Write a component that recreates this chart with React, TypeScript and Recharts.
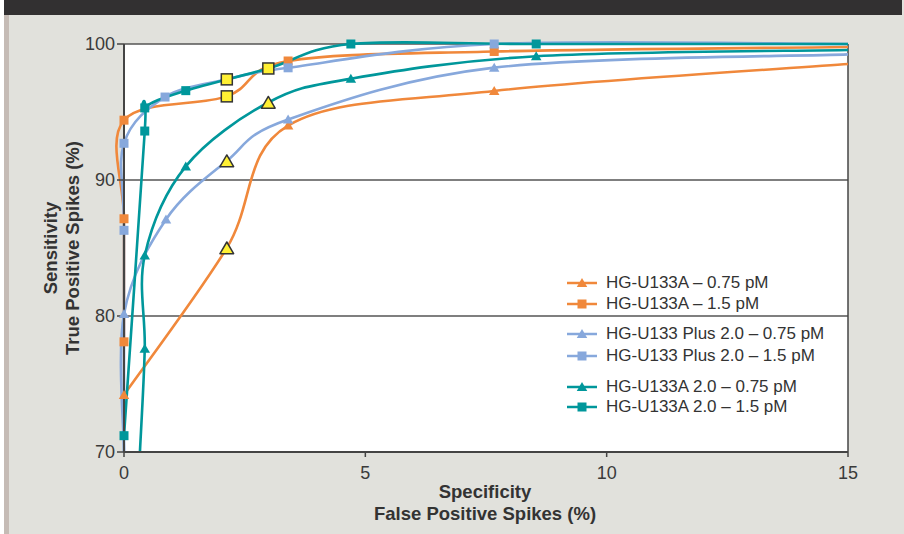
import React from 'react';
import { ComposedChart, Line, XAxis, YAxis, CartesianGrid, ReferenceLine, Legend } from 'recharts';

// ---- data ----
const X_TICKS = [0, 5, 10, 15];
const Y_TICKS = [70, 80, 90, 100];

const HG_U133A_075 = [
  { x: 0, y: 74.2 }, { x: 2.13, y: 85.0 }, { x: 3.4, y: 94.0 },
  { x: 7.67, y: 96.55 }, { x: 15, y: 98.53 },
];
const HG_U133A_15 = [
  { x: 0, y: 78.1 }, { x: 0, y: 87.15 }, { x: 0, y: 94.4 }, { x: 2.13, y: 96.15 },
  { x: 3.4, y: 98.75 }, { x: 7.67, y: 99.45 }, { x: 15, y: 99.78 },
];
const HG_PLUS_075 = [
  { x: 0, y: 70 }, { x: 0, y: 80.15 }, { x: 0.87, y: 87.1 }, { x: 2.13, y: 91.4 },
  { x: 3.4, y: 94.45 }, { x: 7.67, y: 98.26 }, { x: 15, y: 99.24 },
];
const HG_PLUS_15 = [
  { x: 0, y: 70 }, { x: 0, y: 86.3 }, { x: 0, y: 92.7 }, { x: 0.85, y: 96.1 },
  { x: 2.13, y: 97.4 }, { x: 3.4, y: 98.25 }, { x: 7.67, y: 100 }, { x: 15, y: 100 },
];
const HG_A2_075 = [
  { x: 0.33, y: 70 }, { x: 0.43, y: 77.6 }, { x: 0.43, y: 84.45 }, { x: 1.28, y: 91.0 },
  { x: 2.99, y: 95.7 }, { x: 4.7, y: 97.45 }, { x: 8.54, y: 99.1 }, { x: 15, y: 99.56 },
];
const HG_A2_15 = [
  { x: 0, y: 71.2 }, { x: 0.43, y: 93.6 }, { x: 0.43, y: 95.3 }, { x: 1.28, y: 96.57 },
  { x: 2.99, y: 98.2 }, { x: 4.7, y: 100 }, { x: 8.54, y: 100 }, { x: 15, y: 100 },
];

const HIGHLIGHT_SQUARES = [{ x: 2.13, y: 96.15 }, { x: 2.13, y: 97.4 }, { x: 2.99, y: 98.2 }];
const HIGHLIGHT_TRIANGLES = [{ x: 2.13, y: 85.0 }, { x: 2.13, y: 91.4 }, { x: 2.99, y: 95.7 }];

const ORANGE = '#f0883b';
const BLUE = '#87a8dc';
const TEAL = '#00979b';

const SERIES = [
  { name: 'HG-U133A – 0.75 pM', data: HG_U133A_075, color: ORANGE, shape: 'triangle' },
  { name: 'HG-U133A – 1.5 pM', data: HG_U133A_15, color: ORANGE, shape: 'square' },
  { name: 'HG-U133 Plus 2.0 – 0.75 pM', data: HG_PLUS_075, color: BLUE, shape: 'triangle' },
  { name: 'HG-U133 Plus 2.0 – 1.5 pM', data: HG_PLUS_15, color: BLUE, shape: 'square' },
  { name: 'HG-U133A 2.0 – 0.75 pM', data: HG_A2_075, color: TEAL, shape: 'triangle' },
  { name: 'HG-U133A 2.0 – 1.5 pM', data: HG_A2_15, color: TEAL, shape: 'square' },
];

// ---- smoothing (Excel-like Catmull-Rom bezier) ----
function excelSmooth(context: any) {
  let pts: number[][] = [];
  return {
    areaStart() {},
    areaEnd() {},
    lineStart() { pts = []; },
    point(x: number, y: number) { pts.push([+x, +y]); },
    lineEnd() {
      const n = pts.length;
      if (!n) return;
      context.moveTo(pts[0][0], pts[0][1]);
      if (n === 1) { context.lineTo(pts[0][0], pts[0][1]); return; }
      for (let i = 0; i < n - 1; i++) {
        const p0 = pts[Math.max(i - 1, 0)];
        const p1 = pts[i];
        const p2 = pts[i + 1];
        const p3 = pts[Math.min(i + 2, n - 1)];
        context.bezierCurveTo(
          p1[0] + (p2[0] - p0[0]) / 6, p1[1] + (p2[1] - p0[1]) / 6,
          p2[0] - (p3[0] - p1[0]) / 6, p2[1] - (p3[1] - p1[1]) / 6,
          p2[0], p2[1]
        );
      }
    },
  };
}

const triPath = (cx: number, cy: number, s: number) =>
  `M${cx},${cy - s}L${cx + s * 1.05},${cy + s * 0.8}L${cx - s * 1.05},${cy + s * 0.8}Z`;

const makeDot = (color: string, shape: string) => (props: any) => {
  const { cx, cy, index, payload } = props;
  const k = `dot-${index}`;
  if (cx == null || cy == null || payload.y <= 70 || payload.x >= 15) return <g key={k} />;
  if (shape === 'square') {
    return <rect key={k} x={cx - 4.5} y={cy - 4.5} width={9} height={9} fill={color} />;
  }
  return <path key={k} d={triPath(cx, cy, 5)} fill={color} />;
};

const makeHighlightDot = (shape: string) => (props: any) => {
  const { cx, cy, index } = props;
  const k = `hl-${index}`;
  if (cx == null || cy == null) return <g key={k} />;
  if (shape === 'square') {
    return <rect key={k} x={cx - 5.5} y={cy - 5.5} width={11} height={11} fill="#fff033" stroke="#333" strokeWidth={1.5} />;
  }
  return <path key={k} d={triPath(cx, cy + 0.5, 6.5)} fill="#fff033" stroke="#333" strokeWidth={1.5} strokeLinejoin="round" />;
};

const ROW_CENTERS = [13, 33.5, 64, 85.5, 116.5, 137];

const renderLegend = () => (
  <div style={{ position: 'relative', width: 290, height: 150 }}>
    {SERIES.map((s, i) => (
      <div key={s.name} style={{ position: 'absolute', left: 0, top: ROW_CENTERS[i] - 11, height: 22, display: 'flex', alignItems: 'center', whiteSpace: 'nowrap' }}>
        <svg width={34} height={22} style={{ display: 'block' }}>
          <line x1={3} y1={11} x2={33} y2={11} stroke={s.color} strokeWidth={2.5} />
          {s.shape === 'square'
            ? <rect x={13.5} y={6.5} width={9} height={9} fill={s.color} />
            : <path d={triPath(18, 11, 5)} fill={s.color} />}
        </svg>
        <span style={{ marginLeft: 8, fontSize: 17, color: '#333', fontFamily: '"Liberation Sans", Arial, sans-serif' }}>{s.name}</span>
      </div>
    ))}
  </div>
);

const tickStyle = { fill: '#3a3a3a', fontSize: 18, fontFamily: '"Liberation Sans", Arial, sans-serif' };

export default function App() {
  return (
    <div style={{ position: 'absolute', left: 0, top: 0, width: 904, height: 534, background: '#e1e1dc', overflow: 'hidden', fontFamily: '"Liberation Sans", Arial, sans-serif' }}>
      <div style={{ position: 'absolute', left: 0, top: 0, width: 4, height: 534, background: '#ffffff' }} />
      <div style={{ position: 'absolute', left: 4, top: 0, width: 898, height: 15, background: '#323031' }} />
      <div style={{ position: 'absolute', left: 4, top: 15, width: 5, height: 519, background: '#c5bbb5' }} />

      <div style={{ position: 'absolute', left: 0, top: 0 }}>
        <ComposedChart width={904} height={534} margin={{ top: 44, right: 56, bottom: 52, left: 64 }}>
          <CartesianGrid vertical={false} stroke="#555" strokeWidth={1.5} fill="#ffffff" fillOpacity={1} />
          <ReferenceLine x={15} stroke="#444" strokeWidth={1.5} />
          <XAxis
            type="number" dataKey="x" domain={[0, 15]} ticks={X_TICKS} interval={0}
            height={30} tickSize={5} tickMargin={9}
            tick={tickStyle} axisLine={{ stroke: '#444', strokeWidth: 2 }} tickLine={{ stroke: '#444', strokeWidth: 1.5 }}
          />
          <YAxis
            type="number" dataKey="y" domain={[70, 100]} ticks={Y_TICKS} interval={0}
            width={60} tickSize={7} tickMargin={2}
            tick={tickStyle} axisLine={{ stroke: '#444', strokeWidth: 2 }} tickLine={{ stroke: '#444', strokeWidth: 1.5 }}
          />
          {SERIES.map((s) => (
            <Line
              key={s.name} name={s.name} data={s.data} dataKey="y" type={excelSmooth as any}
              stroke={s.color} strokeWidth={2.6} dot={makeDot(s.color, s.shape)} activeDot={false}
              isAnimationActive={false}
            />
          ))}
          <Line data={HIGHLIGHT_SQUARES} dataKey="y" stroke="none" legendType="none" dot={makeHighlightDot('square')} activeDot={false} isAnimationActive={false} />
          <Line data={HIGHLIGHT_TRIANGLES} dataKey="y" stroke="none" legendType="none" dot={makeHighlightDot('triangle')} activeDot={false} isAnimationActive={false} />
          <Legend layout="vertical" align="center" verticalAlign="middle" wrapperStyle={{ left: 564, top: 270, width: 290, height: 150 }} content={renderLegend} />
        </ComposedChart>
      </div>

      <div style={{ position: 'absolute', left: 285, top: 481, width: 400, textAlign: 'center', fontSize: 18.5, lineHeight: '22px', fontWeight: 'bold', color: '#333' }}>
        <div>Specificity</div>
        <div>False Positive Spikes (%)</div>
      </div>
      <div style={{ position: 'absolute', left: 62 - 160, top: 248 - 22, width: 320, height: 44, textAlign: 'center', fontSize: 18.5, lineHeight: '22px', fontWeight: 'bold', color: '#333', transform: 'rotate(-90deg)', transformOrigin: '50% 50%' }}>
        <div>Sensitivity</div>
        <div>True Positive Spikes (%)</div>
      </div>
    </div>
  );
}
